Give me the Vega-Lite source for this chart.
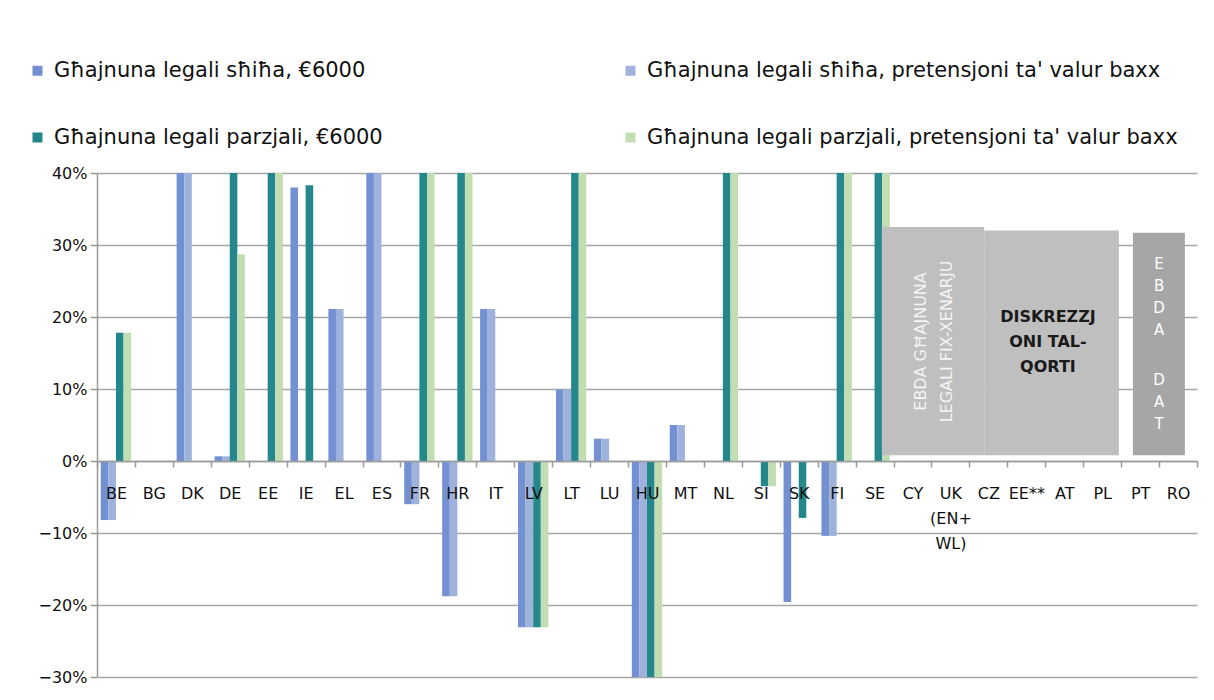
{
  "$schema": "https://vega.github.io/schema/vega-lite/v6.json",
  "width": 1100,
  "height": 504,
  "autosize": "none",
  "padding": {"left": 97, "top": 173, "right": 17, "bottom": 23},
  "background": "white",
  "config": {
    "view": {"stroke": null},
    "font": "DejaVu Sans"
  },
  "layer": [
    {
      "data": {
        "values": [
          {"country": "BE", "series": "Għajnuna legali sħiħa, €6000", "value": -0.082},
          {"country": "BE", "series": "Għajnuna legali sħiħa, pretensjoni ta' valur baxx", "value": -0.082},
          {"country": "BE", "series": "Għajnuna legali parzjali, €6000", "value": 0.178},
          {"country": "BE", "series": "Għajnuna legali parzjali, pretensjoni ta' valur baxx", "value": 0.178},
          {"country": "DK", "series": "Għajnuna legali sħiħa, €6000", "value": 0.4},
          {"country": "DK", "series": "Għajnuna legali sħiħa, pretensjoni ta' valur baxx", "value": 0.4},
          {"country": "DE", "series": "Għajnuna legali sħiħa, €6000", "value": 0.0065},
          {"country": "DE", "series": "Għajnuna legali sħiħa, pretensjoni ta' valur baxx", "value": 0.0065},
          {"country": "DE", "series": "Għajnuna legali parzjali, €6000", "value": 0.4},
          {"country": "DE", "series": "Għajnuna legali parzjali, pretensjoni ta' valur baxx", "value": 0.287},
          {"country": "EE", "series": "Għajnuna legali parzjali, €6000", "value": 0.4},
          {"country": "EE", "series": "Għajnuna legali parzjali, pretensjoni ta' valur baxx", "value": 0.4},
          {"country": "IE", "series": "Għajnuna legali sħiħa, €6000", "value": 0.38},
          {"country": "IE", "series": "Għajnuna legali parzjali, €6000", "value": 0.383},
          {"country": "EL", "series": "Għajnuna legali sħiħa, €6000", "value": 0.211},
          {"country": "EL", "series": "Għajnuna legali sħiħa, pretensjoni ta' valur baxx", "value": 0.211},
          {"country": "ES", "series": "Għajnuna legali sħiħa, €6000", "value": 0.4},
          {"country": "ES", "series": "Għajnuna legali sħiħa, pretensjoni ta' valur baxx", "value": 0.4},
          {"country": "FR", "series": "Għajnuna legali sħiħa, €6000", "value": -0.06},
          {"country": "FR", "series": "Għajnuna legali sħiħa, pretensjoni ta' valur baxx", "value": -0.06},
          {"country": "FR", "series": "Għajnuna legali parzjali, €6000", "value": 0.4},
          {"country": "FR", "series": "Għajnuna legali parzjali, pretensjoni ta' valur baxx", "value": 0.4},
          {"country": "HR", "series": "Għajnuna legali sħiħa, €6000", "value": -0.188},
          {"country": "HR", "series": "Għajnuna legali sħiħa, pretensjoni ta' valur baxx", "value": -0.188},
          {"country": "HR", "series": "Għajnuna legali parzjali, €6000", "value": 0.4},
          {"country": "HR", "series": "Għajnuna legali parzjali, pretensjoni ta' valur baxx", "value": 0.4},
          {"country": "IT", "series": "Għajnuna legali sħiħa, €6000", "value": 0.211},
          {"country": "IT", "series": "Għajnuna legali sħiħa, pretensjoni ta' valur baxx", "value": 0.211},
          {"country": "LV", "series": "Għajnuna legali sħiħa, €6000", "value": -0.231},
          {"country": "LV", "series": "Għajnuna legali sħiħa, pretensjoni ta' valur baxx", "value": -0.231},
          {"country": "LV", "series": "Għajnuna legali parzjali, €6000", "value": -0.231},
          {"country": "LV", "series": "Għajnuna legali parzjali, pretensjoni ta' valur baxx", "value": -0.231},
          {"country": "LT", "series": "Għajnuna legali sħiħa, €6000", "value": 0.099},
          {"country": "LT", "series": "Għajnuna legali sħiħa, pretensjoni ta' valur baxx", "value": 0.099},
          {"country": "LT", "series": "Għajnuna legali parzjali, €6000", "value": 0.4},
          {"country": "LT", "series": "Għajnuna legali parzjali, pretensjoni ta' valur baxx", "value": 0.4},
          {"country": "LU", "series": "Għajnuna legali sħiħa, €6000", "value": 0.031},
          {"country": "LU", "series": "Għajnuna legali sħiħa, pretensjoni ta' valur baxx", "value": 0.031},
          {"country": "HU", "series": "Għajnuna legali sħiħa, €6000", "value": -0.3},
          {"country": "HU", "series": "Għajnuna legali sħiħa, pretensjoni ta' valur baxx", "value": -0.3},
          {"country": "HU", "series": "Għajnuna legali parzjali, €6000", "value": -0.3},
          {"country": "HU", "series": "Għajnuna legali parzjali, pretensjoni ta' valur baxx", "value": -0.3},
          {"country": "MT", "series": "Għajnuna legali sħiħa, €6000", "value": 0.05},
          {"country": "MT", "series": "Għajnuna legali sħiħa, pretensjoni ta' valur baxx", "value": 0.05},
          {"country": "NL", "series": "Għajnuna legali parzjali, €6000", "value": 0.4},
          {"country": "NL", "series": "Għajnuna legali parzjali, pretensjoni ta' valur baxx", "value": 0.4},
          {"country": "SI", "series": "Għajnuna legali parzjali, €6000", "value": -0.035},
          {"country": "SI", "series": "Għajnuna legali parzjali, pretensjoni ta' valur baxx", "value": -0.035},
          {"country": "SK", "series": "Għajnuna legali sħiħa, €6000", "value": -0.196},
          {"country": "SK", "series": "Għajnuna legali parzjali, €6000", "value": -0.079},
          {"country": "FI", "series": "Għajnuna legali sħiħa, €6000", "value": -0.104},
          {"country": "FI", "series": "Għajnuna legali sħiħa, pretensjoni ta' valur baxx", "value": -0.104},
          {"country": "FI", "series": "Għajnuna legali parzjali, €6000", "value": 0.4},
          {"country": "FI", "series": "Għajnuna legali parzjali, pretensjoni ta' valur baxx", "value": 0.4},
          {"country": "SE", "series": "Għajnuna legali parzjali, €6000", "value": 0.4},
          {"country": "SE", "series": "Għajnuna legali parzjali, pretensjoni ta' valur baxx", "value": 0.4}
        ]
      },
      "mark": {"type": "bar"},
      "encoding": {
        "x": {
          "field": "country",
          "type": "nominal",
          "scale": {
            "domain": ["BE","BG","DK","DE","EE","IE","EL","ES","FR","HR","IT","LV","LT","LU","HU","MT","NL","SI","SK","FI","SE","CY","UK (EN+ WL)","CZ","EE**","AT","PL","PT","RO"],
            "paddingInner": 0,
            "paddingOuter": 0
          },
          "axis": {
            "title": null,
            "offset": -216,
            "zindex": 1,
            "labelAngle": 0,
            "labelFontSize": 16,
            "labelColor": "#111111",
            "labelPadding": 18,
            "labelLineHeight": 25,
            "labelBaseline": "top",
            "labelExpr": "datum.value == 'UK (EN+ WL)' ? ['UK','(EN+','WL)'] : datum.value",
            "tickBand": "extent",
            "tickSize": 6,
            "tickWidth": 1.5,
            "tickColor": "#9a9a9a",
            "domainColor": "#9a9a9a",
            "domainWidth": 1.5,
            "grid": false
          }
        },
        "xOffset": {
          "field": "series",
          "type": "nominal",
          "scale": {
            "domain": ["Għajnuna legali sħiħa, €6000", "Għajnuna legali sħiħa, pretensjoni ta' valur baxx", "Għajnuna legali parzjali, €6000", "Għajnuna legali parzjali, pretensjoni ta' valur baxx"],
            "paddingInner": 0,
            "paddingOuter": 0.5
          }
        },
        "y": {
          "field": "value",
          "type": "quantitative",
          "scale": {"domain": [-0.3, 0.4], "nice": false, "zero": false},
          "axis": {
            "title": null,
            "values": [-0.3, -0.2, -0.1, 0, 0.1, 0.2, 0.3, 0.4],
            "format": ".0%",
            "labelFontSize": 16,
            "labelColor": "#111111",
            "labelPadding": 3,
            "tickSize": 7,
            "tickColor": "#9a9a9a",
            "tickWidth": 1.5,
            "domainColor": "#9a9a9a",
            "domainWidth": 1.5,
            "gridColor": "#a6a6a6",
            "gridWidth": 1.5
          }
        },
        "color": {
          "field": "series",
          "type": "nominal",
          "scale": {
            "domain": ["Għajnuna legali sħiħa, €6000", "Għajnuna legali parzjali, €6000", "Għajnuna legali sħiħa, pretensjoni ta' valur baxx", "Għajnuna legali parzjali, pretensjoni ta' valur baxx"],
            "range": ["#7290d2", "#23878b", "#9fb2dc", "#c3ddb3"]
          },
          "legend": {
            "title": null,
            "orient": "none",
            "legendX": -70,
            "legendY": -113,
            "columns": 2,
            "columnPadding": 237,
            "rowPadding": 45,
            "symbolType": "square",
            "symbolSize": 100,
            "symbolStrokeWidth": 0,
            "labelFontSize": 21,
            "labelColor": "#111111",
            "labelOffset": 6,
            "labelLimit": 800
          }
        }
      }
    },
    {
      "data": {
        "values": [
          {"x0": 20.69, "x1": 23.39, "y0": 0.008, "y1": 0.325},
          {"x0": 23.39, "x1": 26.94, "y0": 0.008, "y1": 0.32}
        ]
      },
      "mark": {"type": "rect", "color": "#bfbfbf"},
      "encoding": {
        "x": {"field": "x0", "type": "quantitative", "scale": {"domain": [0, 29], "nice": false, "zero": false}, "axis": null},
        "x2": {"field": "x1"},
        "y": {"field": "y0", "type": "quantitative"},
        "y2": {"field": "y1"}
      }
    },
    {
      "data": {
        "values": [
          {"x0": 27.31, "x1": 28.68, "y0": 0.008, "y1": 0.317}
        ]
      },
      "mark": {"type": "rect", "color": "#a6a6a6"},
      "encoding": {
        "x": {"field": "x0", "type": "quantitative", "scale": {"domain": [0, 29], "nice": false, "zero": false}, "axis": null},
        "x2": {"field": "x1"},
        "y": {"field": "y0", "type": "quantitative"},
        "y2": {"field": "y1"}
      }
    },
    {
      "data": {"values": [{"x": 21.72, "y": 0.166, "label": "EBDA GĦAJNUNA\nLEGALI FIX-XENARJU"}]},
      "mark": {"type": "text", "angle": 270, "align": "center", "baseline": "middle", "lineBreak": "\n", "lineHeight": 26, "fontSize": 16, "color": "#f4f4f4"},
      "encoding": {
        "x": {"field": "x", "type": "quantitative", "scale": {"domain": [0, 29], "nice": false, "zero": false}, "axis": null},
        "y": {"field": "y", "type": "quantitative"},
        "text": {"field": "label"}
      }
    },
    {
      "data": {"values": [{"x": 25.07, "y": 0.2, "label": "DISKREZZJ\nONI TAL-\nQORTI"}]},
      "mark": {"type": "text", "align": "center", "baseline": "middle", "lineBreak": "\n", "lineHeight": 25, "fontSize": 16, "fontWeight": "bold", "color": "#1a1a1a"},
      "encoding": {
        "x": {"field": "x", "type": "quantitative", "scale": {"domain": [0, 29], "nice": false, "zero": false}, "axis": null},
        "y": {"field": "y", "type": "quantitative"},
        "text": {"field": "label"}
      }
    },
    {
      "data": {"values": [
        {"x": 28.0, "y": 0.274, "label": "E\nB\nD\nA"},
        {"x": 28.0, "y": 0.1125, "label": "D\nA\nT"}
      ]},
      "mark": {"type": "text", "align": "center", "baseline": "middle", "lineBreak": "\n", "lineHeight": 22, "fontSize": 15, "color": "#ffffff"},
      "encoding": {
        "x": {"field": "x", "type": "quantitative", "scale": {"domain": [0, 29], "nice": false, "zero": false}, "axis": null},
        "y": {"field": "y", "type": "quantitative"},
        "text": {"field": "label"}
      }
    }
  ],
  "resolve": {"scale": {"x": "independent"}, "axis": {"x": "independent"}}
}
